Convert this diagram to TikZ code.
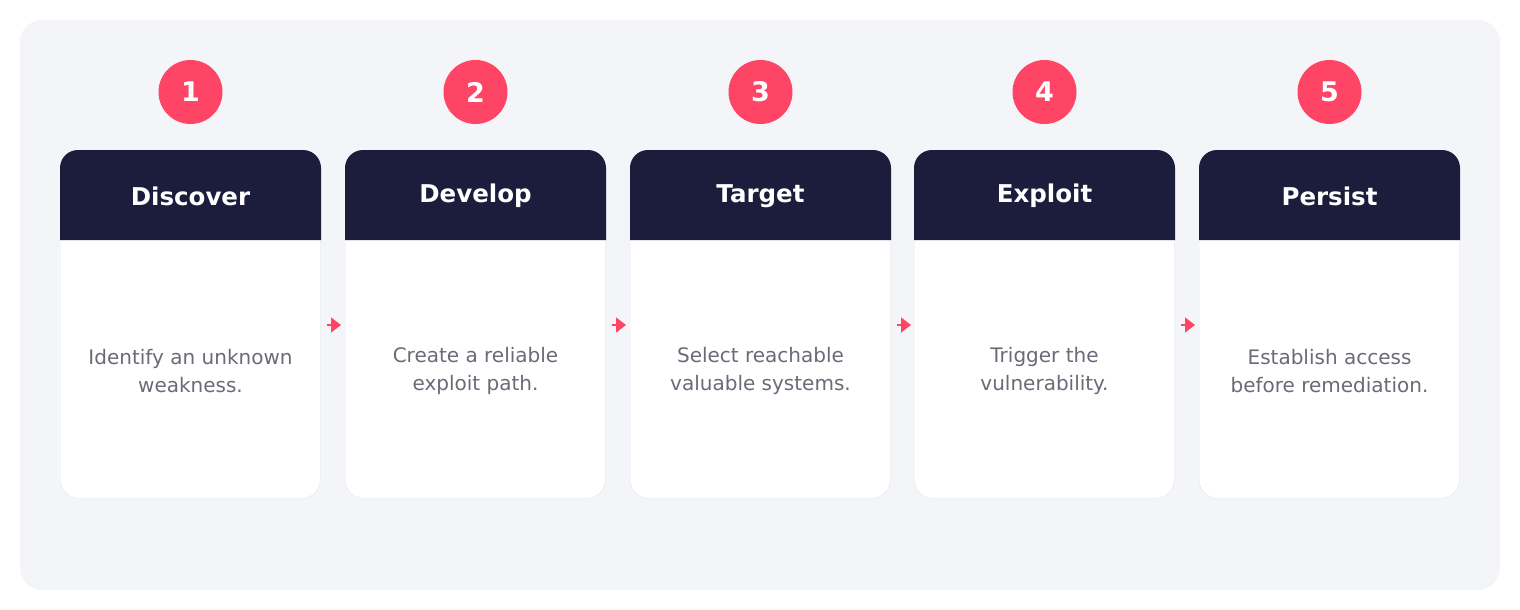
\documentclass[tikz,border=0pt]{standalone}
\usepackage{fontspec}
\setmainfont{DejaVu Sans}
\usetikzlibrary{positioning,arrows.meta}
\definecolor{bgpanel}{HTML}{F4F5F9}
\definecolor{navy}{HTML}{1C1C3C}
\definecolor{accent}{HTML}{FF4565}
\definecolor{bodytext}{HTML}{6B6B78}
\definecolor{cardline}{HTML}{E4E6EC}
\tikzset{
  card/.style={draw=cardline, fill=white, rounded corners=18pt, minimum width=260pt, minimum height=348pt, inner sep=0pt},
  head/.style={fill=navy, text=white, font=\bfseries\fontsize{24.5}{28}\selectfont},
  badge/.style={circle, fill=accent, text=white, minimum size=64pt, inner sep=0pt, font=\bfseries\fontsize{27}{30}\selectfont},
  desc/.style={text=bodytext, align=center, font=\fontsize{20}{28}\selectfont},
  flow/.style={draw=accent, line width=1.5pt, -{Triangle[length=10pt,width=15pt]}}
}
\begin{document}
\begin{tikzpicture}[x=1pt,y=-1pt]
  \useasboundingbox (0,0) rectangle (1520,610);
  \fill[bgpanel, rounded corners=22pt] (20,20) rectangle (1500,590);

  \foreach \i/\x/\title/\txt in {
    1/60/Discover/{Identify an unknown\\weakness.},
    2/345/Develop/{Create a reliable\\exploit path.},
    3/630/Target/{Select reachable\\valuable systems.},
    4/914/Exploit/{Trigger the\\vulnerability.},
    5/1199/Persist/{Establish access\\before remediation.}} {
    \node[card, anchor=north west] (c\i) at (\x,150) {};
    \fill[navy] (\x,240) [rounded corners=18pt] -- (\x,150) -- (\x+261,150) [sharp corners] -- (\x+261,240) -- cycle;
    \node[head] (h\i) at (\x+130.5,196) {\title};
    \node[badge] (s\i) at (\x+130.5,92) {\i};
    \node[desc] (d\i) at (\x+130.5,371) {\txt};
    \coordinate (a\i) at (\x+267,325);
    \coordinate (b\i) at (\x+281,325);
  }

  % connectors
  \foreach \i in {1,2,3,4} {
    \draw[flow] (a\i) -- (b\i);
  }
\end{tikzpicture}
\end{document}
